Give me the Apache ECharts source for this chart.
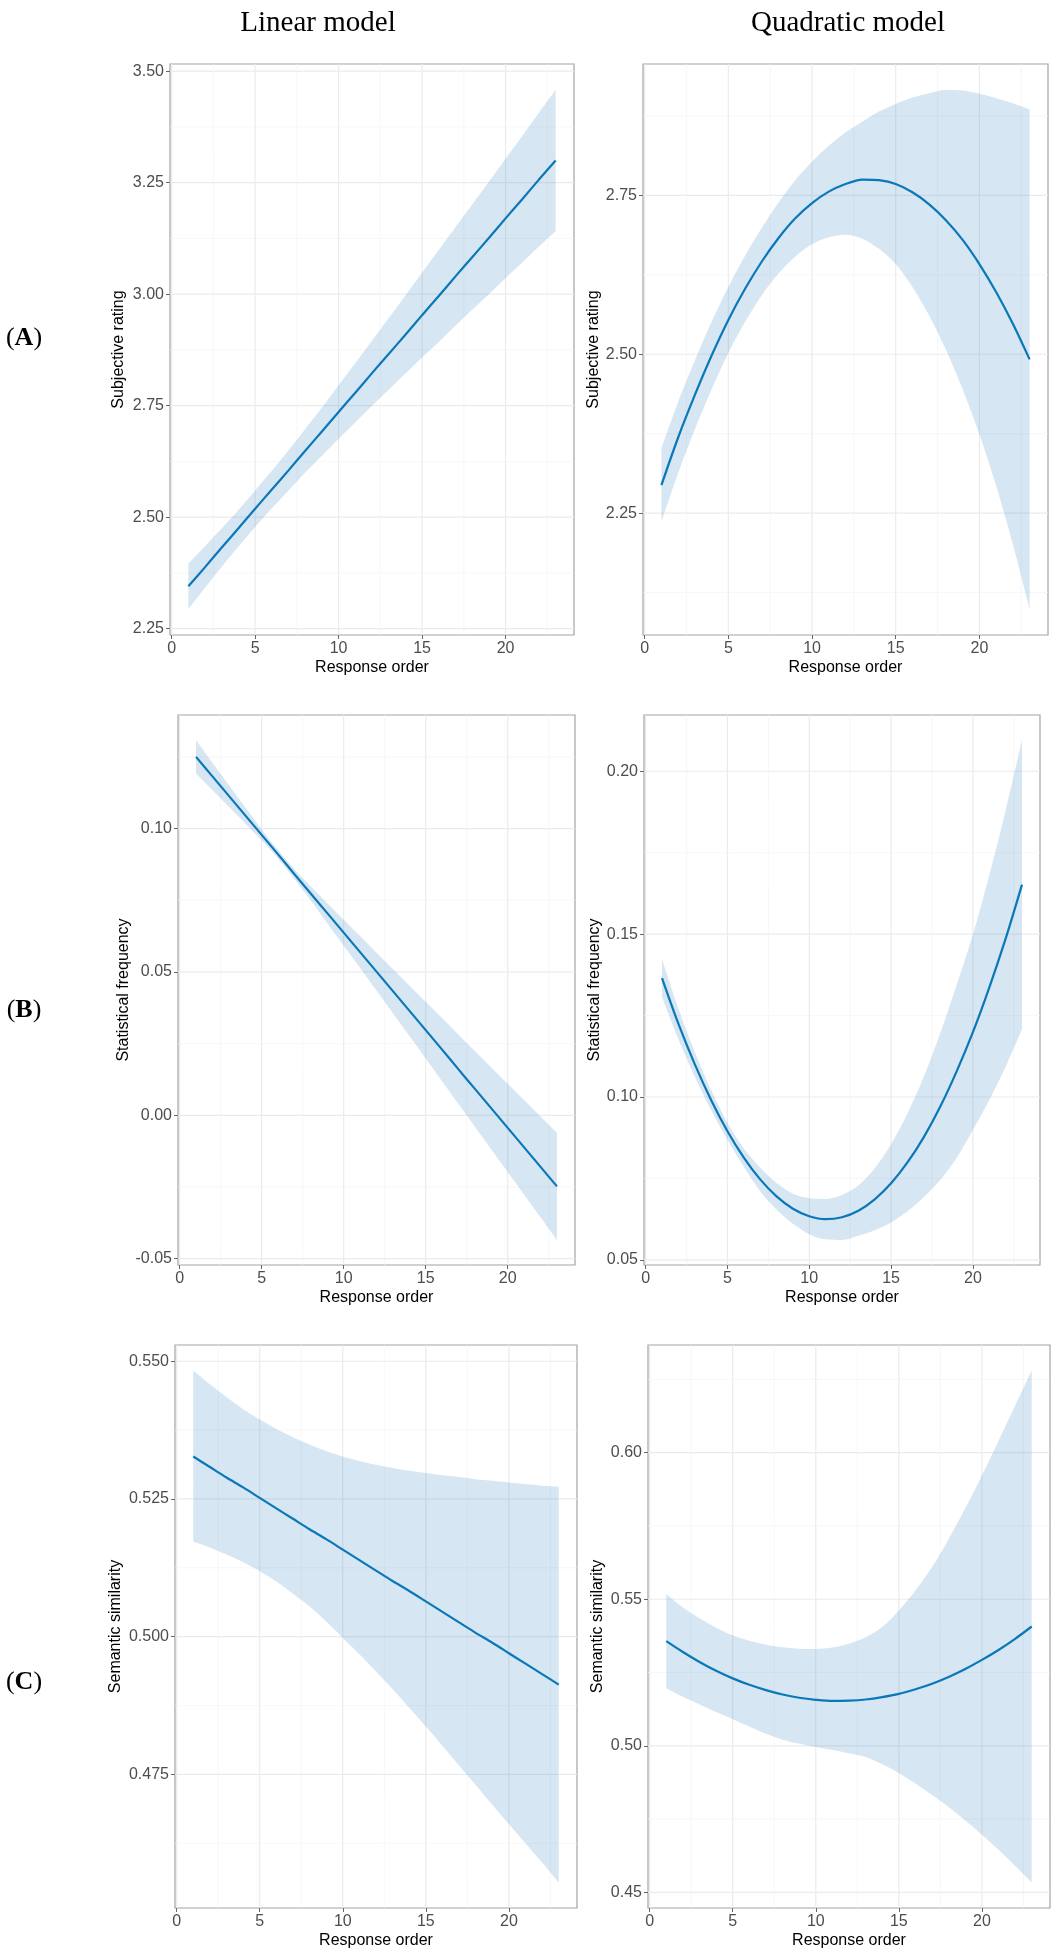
<!DOCTYPE html>
<html>
<head>
<meta charset="utf-8">
<script src="https://cdn.jsdelivr.net/npm/echarts@6/dist/echarts.min.js"></script>
<style>
  html, body { margin: 0; padding: 0; background: #fff; }
  #chart { width: 1061px; height: 1956px; }
</style>
</head>
<body>
<div id="chart"></div>
<script>
var orderX = [1, 2, 3, 4, 5, 6, 7, 8, 9, 10, 11, 12, 13, 14, 15, 16, 17, 18, 19, 20, 21, 22, 23];

// (A) subjective rating
var ratingLinFit = [2.345, 2.388, 2.432, 2.475, 2.519, 2.562, 2.605, 2.649, 2.692, 2.736, 2.779, 2.823,
                    2.866, 2.909, 2.953, 2.996, 3.040, 3.083, 3.126, 3.170, 3.213, 3.257, 3.300];
var ratingLinLow = [2.294, 2.342, 2.389, 2.434, 2.478, 2.520, 2.560, 2.600, 2.638, 2.676, 2.713, 2.750,
                    2.786, 2.822, 2.858, 2.893, 2.929, 2.965, 3.000, 3.036, 3.071, 3.107, 3.142];
var ratingLinUp  = [2.396, 2.435, 2.475, 2.516, 2.560, 2.604, 2.650, 2.698, 2.746, 2.796, 2.845, 2.896,
                    2.946, 2.997, 3.048, 3.099, 3.150, 3.201, 3.252, 3.304, 3.355, 3.407, 3.458];

var ratingQuadFit = [2.294, 2.369, 2.436, 2.498, 2.554, 2.603, 2.646, 2.683, 2.714, 2.738, 2.756, 2.768,
                     2.775, 2.774, 2.768, 2.755, 2.736, 2.711, 2.680, 2.642, 2.598, 2.548, 2.492];
var ratingQuadLow = [2.236, 2.313, 2.382, 2.445, 2.502, 2.551, 2.593, 2.627, 2.654, 2.673, 2.684, 2.688,
                     2.682, 2.666, 2.642, 2.606, 2.561, 2.507, 2.445, 2.374, 2.293, 2.201, 2.099];
var ratingQuadUp  = [2.352, 2.425, 2.490, 2.551, 2.606, 2.655, 2.699, 2.739, 2.774, 2.803, 2.828, 2.849,
                     2.866, 2.882, 2.894, 2.904, 2.911, 2.916, 2.915, 2.910, 2.903, 2.895, 2.885];

// (B) statistical frequency
var freqLinFit = [0.1250, 0.1182, 0.1114, 0.1046, 0.0978, 0.0910, 0.0841, 0.0773, 0.0705, 0.0637, 0.0569, 0.0501,
                  0.0433, 0.0365, 0.0297, 0.0229, 0.0160, 0.0092, 0.0024, -0.0044, -0.0112, -0.0180, -0.0248];
var freqLinLow = [0.1191, 0.1134, 0.1076, 0.1018, 0.0959, 0.0895, 0.0824, 0.0748, 0.0670, 0.0592, 0.0514, 0.0435,
                  0.0356, 0.0277, 0.0198, 0.0119, 0.0039, -0.0040, -0.0119, -0.0198, -0.0277, -0.0356, -0.0435];
var freqLinUp  = [0.1309, 0.1230, 0.1152, 0.1074, 0.0997, 0.0925, 0.0858, 0.0798, 0.0740, 0.0682, 0.0625, 0.0567,
                  0.0510, 0.0453, 0.0396, 0.0339, 0.0281, 0.0224, 0.0167, 0.0110, 0.0053, -0.0004, -0.0061];

var freqQuadFit = [0.1365, 0.1225, 0.1101, 0.0991, 0.0895, 0.0814, 0.0747, 0.0695, 0.0657, 0.0634, 0.0625, 0.0631,
                   0.0651, 0.0686, 0.0735, 0.0799, 0.0877, 0.0970, 0.1078, 0.1199, 0.1336, 0.1486, 0.1652];
var freqQuadLow = [0.1307, 0.1178, 0.1063, 0.0960, 0.0869, 0.0786, 0.0711, 0.0654, 0.0611, 0.0579, 0.0563, 0.0561,
                   0.0574, 0.0591, 0.0615, 0.0649, 0.0692, 0.0745, 0.0813, 0.0899, 0.0991, 0.1093, 0.1208];
var freqQuadUp  = [0.1423, 0.1272, 0.1139, 0.1022, 0.0921, 0.0842, 0.0783, 0.0736, 0.0703, 0.0689, 0.0687, 0.0699,
                   0.0728, 0.0781, 0.0855, 0.0949, 0.1062, 0.1195, 0.1343, 0.1499, 0.1681, 0.1879, 0.2096];

// (C) semantic similarity
var semLinFit = [0.5327, 0.5308, 0.5289, 0.5271, 0.5252, 0.5233, 0.5214, 0.5195, 0.5177, 0.5158, 0.5139, 0.5120,
                 0.5101, 0.5083, 0.5064, 0.5045, 0.5026, 0.5007, 0.4989, 0.4970, 0.4951, 0.4932, 0.4913];
var semLinLow = [0.5173, 0.5162, 0.5149, 0.5135, 0.5119, 0.5100, 0.5078, 0.5055, 0.5028, 0.4998, 0.4968, 0.4937,
                 0.4905, 0.4871, 0.4837, 0.4802, 0.4766, 0.4731, 0.4695, 0.4660, 0.4625, 0.4590, 0.4554];
var semLinUp  = [0.5483, 0.5458, 0.5435, 0.5413, 0.5394, 0.5377, 0.5362, 0.5349, 0.5337, 0.5327, 0.5319, 0.5312,
                 0.5306, 0.5301, 0.5297, 0.5293, 0.5290, 0.5286, 0.5283, 0.5280, 0.5277, 0.5274, 0.5272];

var semQuadFit = [0.5357, 0.5320, 0.5286, 0.5256, 0.5230, 0.5208, 0.5190, 0.5175, 0.5164, 0.5157, 0.5153, 0.5154,
                  0.5158, 0.5166, 0.5177, 0.5193, 0.5212, 0.5235, 0.5262, 0.5293, 0.5327, 0.5365, 0.5407];
var semQuadLow = [0.5196, 0.5167, 0.5141, 0.5115, 0.5091, 0.5066, 0.5041, 0.5021, 0.5007, 0.4996, 0.4986, 0.4975,
                  0.4962, 0.4937, 0.4907, 0.4871, 0.4832, 0.4791, 0.4745, 0.4697, 0.4645, 0.4590, 0.4534];
var semQuadUp  = [0.5518, 0.5472, 0.5435, 0.5403, 0.5377, 0.5358, 0.5345, 0.5336, 0.5331, 0.5330, 0.5335, 0.5348,
                  0.5370, 0.5405, 0.5462, 0.5530, 0.5610, 0.5705, 0.5810, 0.5922, 0.6040, 0.6160, 0.6280];

// tick labels
var xTickLabels = ['0', '5', '10', '15', '20'];
var xMinorTicks = [2.5, 7.5, 12.5, 17.5, 22.5];
var ratingLinTicks = ['2.25', '2.50', '2.75', '3.00', '3.25', '3.50'];
var ratingLinMinor = [2.375, 2.625, 2.875, 3.125, 3.375];
var ratingQuadTicks = ['2.25', '2.50', '2.75'];
var ratingQuadMinor = [2.125, 2.375, 2.625, 2.875];
var freqLinTicks = ['-0.05', '0.00', '0.05', '0.10'];
var freqLinMinor = [-0.025, 0.025, 0.075, 0.125];
var freqQuadTicks = ['0.05', '0.10', '0.15', '0.20'];
var freqQuadMinor = [0.075, 0.125, 0.175];
var semLinTicks = ['0.475', '0.500', '0.525', '0.550'];
var semLinMinor = [0.4625, 0.4875, 0.5125, 0.5375];
var semQuadTicks = ['0.45', '0.50', '0.55', '0.60'];
var semQuadMinor = [0.475, 0.525, 0.575, 0.625];

var colTitles = ['Linear model', 'Quadratic model'];
var rowLetters = ['A', 'B', 'C'];

var lineColor = '#0a78b8';
var ribbonColor = 'rgba(49,130,189,0.2)';
var labelFont = 'Liberation Sans, Arial, sans-serif';
var serifFont = 'Liberation Serif, Times New Roman, serif';

var panels = [
    {fit: ratingLinFit, low: ratingLinLow, up: ratingLinUp, ticks: ratingLinTicks, minor: ratingLinMinor,
     name: 'Subjective rating', box: [170, 64, 404, 571], gap: 43},
    {fit: ratingQuadFit, low: ratingQuadLow, up: ratingQuadUp, ticks: ratingQuadTicks, minor: ratingQuadMinor,
     name: 'Subjective rating', box: [643, 64, 405, 571], gap: 41},
    {fit: freqLinFit, low: freqLinLow, up: freqLinUp, ticks: freqLinTicks, minor: freqLinMinor,
     name: 'Statistical frequency', box: [178, 715, 397, 550], gap: 45},
    {fit: freqQuadFit, low: freqQuadLow, up: freqQuadUp, ticks: freqQuadTicks, minor: freqQuadMinor,
     name: 'Statistical frequency', box: [644, 715, 396, 550], gap: 41},
    {fit: semLinFit, low: semLinLow, up: semLinUp, ticks: semLinTicks, minor: semLinMinor,
     name: 'Semantic similarity', box: [175, 1345, 402, 563], gap: 51},
    {fit: semQuadFit, low: semQuadLow, up: semQuadUp, ticks: semQuadTicks, minor: semQuadMinor,
     name: 'Semantic similarity', box: [648, 1345, 402, 563], gap: 42}
];

// ggplot style 5% expansion of the data range
function expand(lo, hi) {
    let d = (hi - lo) * 0.05;
    return [lo - d, hi + d];
}

let xRange = expand(orderX[0], orderX[orderX.length - 1]);
let xMajor = xTickLabels.map(Number);

let grids = [], xAxes = [], yAxes = [], series = [];

panels.forEach(function (p, i) {
    let yRange = expand(Math.min.apply(null, p.low), Math.max.apply(null, p.up));
    let yMajor = p.ticks.map(Number);

    grids.push({
        left: p.box[0], top: p.box[1], width: p.box[2], height: p.box[3],
        show: true, borderColor: '#a3a3a3', borderWidth: 1.2, backgroundColor: '#fff'
    });

    xAxes.push({
        type: 'value', gridIndex: i, min: xRange[0], max: xRange[1],
        splitLine: {show: false}, axisLine: {show: false, onZero: false},
        axisTick: {show: true, customValues: xMajor, length: 4, lineStyle: {color: '#666', width: 1}},
        axisLabel: {
            customValues: xMajor, color: '#4d4d4d', fontSize: 16, fontFamily: labelFont, margin: 6,
            formatter: function (v) { return xTickLabels[xMajor.indexOf(v)]; }
        },
        name: 'Response order', nameLocation: 'middle', nameGap: 25,
        nameTextStyle: {color: '#000', fontSize: 16, fontFamily: labelFont}
    });

    yAxes.push({
        type: 'value', gridIndex: i, min: yRange[0], max: yRange[1],
        splitLine: {show: false}, axisLine: {show: false, onZero: false},
        axisTick: {show: true, customValues: yMajor, length: 4, lineStyle: {color: '#666', width: 1}},
        axisLabel: {
            customValues: yMajor, color: '#4d4d4d', fontSize: 16, fontFamily: labelFont, margin: 6,
            formatter: function (v) { return p.ticks[yMajor.indexOf(v)]; }
        },
        name: p.name, nameLocation: 'middle', nameGap: p.gap,
        nameTextStyle: {color: '#000', fontSize: 16, fontFamily: labelFont}
    });

    // grid lines: [value, 0 vertical / 1 horizontal, major]
    let gridData = [];
    xMajor.forEach(function (v) { gridData.push([v, 0, 1]); });
    xMinorTicks.forEach(function (v) { gridData.push([v, 0, 0]); });
    yMajor.forEach(function (v) { gridData.push([v, 1, 1]); });
    p.minor.forEach(function (v) { gridData.push([v, 1, 0]); });

    series.push({
        type: 'custom', xAxisIndex: i, yAxisIndex: i, z: 0, silent: true, clip: false,
        data: gridData,
        renderItem: function (params, api) {
            let v = api.value(0), vertical = api.value(1) === 0, major = api.value(2) === 1;
            let a = vertical ? api.coord([v, yRange[0]]) : api.coord([xRange[0], v]);
            let b = vertical ? api.coord([v, yRange[1]]) : api.coord([xRange[1], v]);
            return {
                type: 'line',
                shape: {x1: a[0], y1: a[1], x2: b[0], y2: b[1]},
                style: {stroke: major ? '#ebebeb' : '#f3f3f3', lineWidth: major ? 1.2 : 0.7}
            };
        }
    });

    // ribbon: lower edge + stacked width (y kept in the first column so it is the stacked one)
    series.push({
        type: 'line', xAxisIndex: i, yAxisIndex: i, stack: 'band' + i, stackStrategy: 'all', z: 2,
        encode: {x: 1, y: 0},
        data: orderX.map(function (x, k) { return [p.low[k], x]; }),
        symbol: 'none', smooth: 0.3,
        lineStyle: {opacity: 0}, silent: true
    });
    series.push({
        type: 'line', xAxisIndex: i, yAxisIndex: i, stack: 'band' + i, stackStrategy: 'all', z: 2,
        encode: {x: 1, y: 0},
        data: orderX.map(function (x, k) { return [p.up[k] - p.low[k], x]; }),
        symbol: 'none', smooth: 0.3,
        lineStyle: {opacity: 0}, areaStyle: {color: ribbonColor, opacity: 1}, silent: true
    });

    // fitted curve
    series.push({
        type: 'line', xAxisIndex: i, yAxisIndex: i, z: 3,
        data: orderX.map(function (x, k) { return [x, p.fit[k]]; }),
        symbol: 'none', smooth: 0.3,
        lineStyle: {color: lineColor, width: 2.2}, silent: true
    });
});

let graphics = [];
[318, 848].forEach(function (cx, j) {
    graphics.push({
        type: 'text', x: cx, y: 23,
        style: {text: colTitles[j], align: 'center', verticalAlign: 'middle',
                font: '29px ' + serifFont, fill: '#000'}
    });
});
[338, 1010, 1682].forEach(function (cy, j) {
    graphics.push({
        type: 'text', x: 24, y: cy,
        style: {
            text: '{p|(}{b|' + rowLetters[j] + '}{p|)}', align: 'center', verticalAlign: 'middle',
            rich: {
                p: {fontSize: 26, fontFamily: serifFont, fill: '#000'},
                b: {fontSize: 26, fontFamily: serifFont, fontWeight: 'bold', fill: '#000'}
            }
        }
    });
});

let myChart = echarts.init(document.getElementById('chart'), null, {renderer: 'canvas'});
myChart.setOption({
    animation: false,
    backgroundColor: '#fff',
    grid: grids,
    xAxis: xAxes,
    yAxis: yAxes,
    series: series,
    graphic: graphics
});
</script>
</body>
</html>
